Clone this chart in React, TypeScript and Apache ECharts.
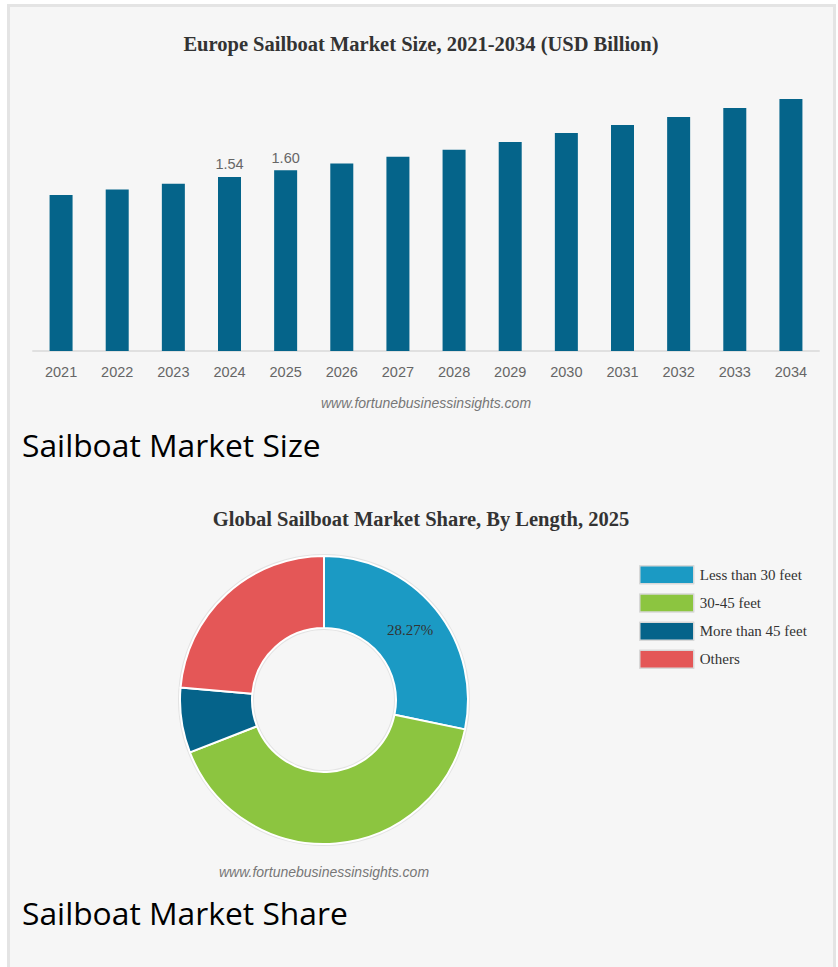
import React, { useEffect, useRef } from "react";
import * as echarts from "echarts";

const years = ["2021", "2022", "2023", "2024", "2025", "2026", "2027", "2028", "2029", "2030", "2031", "2032", "2033", "2034"];
const marketSize = [1.38, 1.43, 1.48, 1.54, 1.60, 1.66, 1.72, 1.78, 1.85, 1.93, 2.0, 2.07, 2.15, 2.23];
const labeledYears = ["2024", "2025"];

const lengthSegments = ["Less than 30 feet", "30-45 feet", "More than 45 feet", "Others"];
const lengthShares = [28.27, 40.8, 7.3, 23.63];
const segmentColors = ["#1b9ac4", "#8cc540", "#05638a", "#e45757"];
const labeledSegments = ["Less than 30 feet"];

const barTitle = "Europe Sailboat Market Size, 2021-2034 (USD Billion)";
const pieTitle = "Global Sailboat Market Share, By Length, 2025";
const watermark = "www.fortunebusinessinsights.com";
const heading1 = "Sailboat Market Size";
const heading2 = "Sailboat Market Share";

const SERIF = "'Liberation Serif', 'Times New Roman', serif";
const SANS = "'Liberation Sans', Arial, sans-serif";

export default function App() {
  const ref = useRef<HTMLDivElement>(null);
  useEffect(() => {
    if (!ref.current) return;
    const chart = echarts.init(ref.current, null, { renderer: "svg" });
    const option: any = {
      animation: false,
      backgroundColor: "transparent",
      grid: { left: 33, right: 19, top: 68.5, bottom: 616, containLabel: false },
      xAxis: {
        type: "category",
        data: years,
        axisLine: { show: true, lineStyle: { color: "#e0e0e0", width: 2 } },
        axisTick: { show: false },
        axisLabel: { color: "#666", fontSize: 14.5, fontFamily: SANS, margin: 13 },
      },
      yAxis: {
        type: "value",
        min: 0,
        max: 2.5,
        show: false,
        splitLine: { show: false },
      },
      legend: {
        orient: "vertical",
        left: 639,
        top: 565,
        padding: 0,
        itemWidth: 54,
        itemHeight: 18,
        itemGap: 8.7,
        icon: "rect",
        data: lengthSegments,
        textStyle: { fontFamily: SERIF, fontSize: 15, color: "#333", lineHeight: 18, padding: [0, 0, 0, 1] },
        itemStyle: { borderColor: "#d8d8d8", borderWidth: 1.5 },
      },
      series: [
        {
          type: "bar",
          data: marketSize.map((v, i) =>
            labeledYears.includes(years[i])
              ? { value: v, label: { show: true } }
              : v
          ),
          barWidth: 23,
          itemStyle: { color: "#05648a" },
          label: {
            show: false,
            position: "top",
            distance: 5,
            color: "#666",
            fontSize: 14.5,
            fontFamily: SANS,
            formatter: (p: any) => p.value.toFixed(2),
          },
        },
        {
          type: "pie",
          silent: true,
          center: [324, 700],
          radius: [70, 146],
          label: { show: false },
          labelLine: { show: false },
          data: [{ name: "ring", value: 1, itemStyle: { color: "#e3e3e3" } }],
          z: 1,
        },
        {
          type: "pie",
          center: [324, 700],
          radius: [72, 144],
          startAngle: 90,
          clockwise: true,
          z: 2,
          itemStyle: { borderColor: "#ffffff", borderWidth: 2 },
          labelLine: { show: false },
          label: {
            show: false,
            position: "inside",
            color: "#333",
            fontSize: 15,
            fontFamily: SERIF,
            formatter: (p: any) => p.value.toFixed(2) + "%",
          },
          data: lengthSegments.map((n, i) => ({
            name: n,
            value: lengthShares[i],
            itemStyle: { color: segmentColors[i] },
            label: { show: labeledSegments.includes(n) },
          })),
        },
      ],
      graphic: [
        {
          type: "text",
          x: 421,
          y: 44,
          style: {
            text: barTitle,
            fill: "#333",
            font: `bold 20.5px ${SERIF}`,
            textAlign: "center",
            textVerticalAlign: "middle",
          },
        },
        {
          type: "text",
          x: 426,
          y: 403,
          style: {
            text: watermark,
            fill: "#777",
            font: `italic 14px ${SANS}`,
            textAlign: "center",
            textVerticalAlign: "middle",
          },
        },
        {
          type: "text",
          x: 22,
          y: 444,
          style: {
            text: heading1,
            fill: "#000",
            font: `31.8px 'Open Sans', sans-serif`,
            textAlign: "left",
            textVerticalAlign: "middle",
          },
        },
        {
          type: "text",
          x: 421,
          y: 519,
          style: {
            text: pieTitle,
            fill: "#333",
            font: `bold 20.5px ${SERIF}`,
            textAlign: "center",
            textVerticalAlign: "middle",
          },
        },
        {
          type: "text",
          x: 324,
          y: 872,
          style: {
            text: watermark,
            fill: "#777",
            font: `italic 14px ${SANS}`,
            textAlign: "center",
            textVerticalAlign: "middle",
          },
        },
        {
          type: "text",
          x: 22,
          y: 912,
          style: {
            text: heading2,
            fill: "#000",
            font: `31.8px 'Open Sans', sans-serif`,
            textAlign: "left",
            textVerticalAlign: "middle",
          },
        },
      ],
    };
    chart.setOption(option);
    return () => chart.dispose();
  }, []);

  return (
    <div style={{ position: "fixed", left: 0, top: 0, width: 838, height: 967, background: "#fff", overflow: "hidden" }}>
      <div
        style={{
          position: "absolute",
          left: 7,
          top: 4,
          width: 823,
          height: 980,
          borderTop: "3px solid #e4e4e4",
          borderLeft: "3px solid #e4e4e4",
          borderRight: "3px solid #e4e4e4",
          background: "#f6f6f6",
        }}
      />
      <div ref={ref} style={{ position: "absolute", left: 0, top: 0, width: 838, height: 967 }} />
    </div>
  );
}
